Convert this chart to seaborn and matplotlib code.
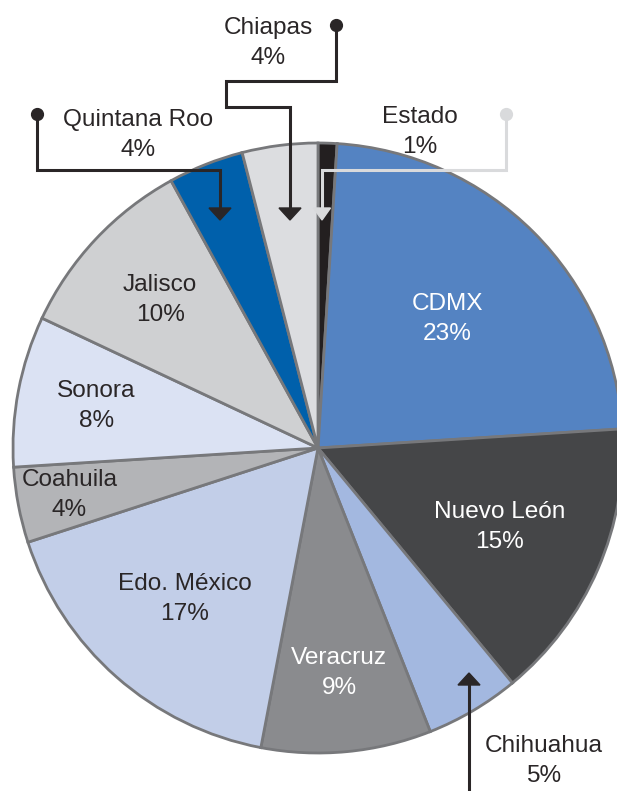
import matplotlib
matplotlib.use("Agg")
import matplotlib.pyplot as plt
import seaborn as sns
from matplotlib.patches import Polygon
import numpy as np

# data, clockwise from 12 o'clock
estados = ["Estado", "CDMX", "Nuevo León", "Chihuahua", "Veracruz", "Edo. México",
           "Coahuila", "Sonora", "Jalisco", "Quintana Roo", "Chiapas"]
porcentajes = [1, 23, 15, 5, 9, 17, 4, 8, 10, 4, 4]
colores = ["#231f20", "#5483c2", "#454648", "#a3b8e0", "#8a8b8e", "#c2cee8",
           "#b3b4b7", "#dbe2f3", "#cfd0d2", "#0060ab", "#dcdde0"]

W, H = 617, 791
CX, CY, R = 318, 448, 305

sns.set_theme(style="white")
plt.rcParams["font.family"] = ["Liberation Sans", "DejaVu Sans"]

fig = plt.figure(figsize=(W / 100, H / 100), dpi=100)
ax = fig.add_axes([0, 0, 1, 1])

def py(y):
    return H - y

wedges, _ = ax.pie(porcentajes, colors=colores, startangle=90, counterclock=False,
                   center=(CX, py(CY)), radius=R,
                   wedgeprops=dict(edgecolor="#77787b", linewidth=2.0))
ax.set_xlim(0, W)
ax.set_ylim(0, H)
ax.set_aspect("equal")
ax.axis("off")

FS = 17.6
dark = "#2a2627"

def two_lines(x, y, name, pct, color=dark):
    ax.text(x, py(y - 15), name, ha="center", va="center", fontsize=FS, color=color)
    ax.text(x, py(y + 15), pct, ha="center", va="center", fontsize=FS, color=color)

# labels inside the slices
dist = {"CDMX": 0.60, "Nuevo León": 0.65, "Veracruz": 0.74, "Edo. México": 0.66,
        "Coahuila": 0.83, "Sonora": 0.74, "Jalisco": 0.71}
blancos = {"CDMX", "Nuevo León", "Veracruz"}
for w, name, p in zip(wedges, estados, porcentajes):
    if name not in dist:
        continue
    ang = np.deg2rad((w.theta1 + w.theta2) / 2)
    x = CX + dist[name] * R * np.cos(ang)
    y = CY - dist[name] * R * np.sin(ang)
    two_lines(x, y, name, f"{p}%", "white" if name in blancos else dark)

# callouts for the thin slices
def callout(path, color, dot=True, head_w=22, head_h=12):
    xs = [p[0] for p in path]
    ys = [py(p[1]) for p in path]
    tipx, tipy = path[-1]
    base = tipy - head_h * np.sign(tipy - path[-2][1])
    ys[-1] = py(base)
    ax.plot(xs, ys, color=color, lw=2.2, solid_joinstyle="miter", zorder=5)
    if dot:
        ax.plot(xs[0], ys[0], "o", color=color, ms=8.5, zorder=5)
    tri = Polygon([(tipx - head_w / 2, py(base)), (tipx + head_w / 2, py(base)),
                   (tipx, py(tipy))], closed=True, color=color, zorder=6)
    ax.add_patch(tri)

pct = dict(zip(estados, porcentajes))

callout([(506, 114), (506, 170), (322, 170), (322, 220)], "#d9dadc", head_w=17)
two_lines(420, 132, "Estado", f"{pct['Estado']}%")

callout([(336, 25), (336, 81), (226, 81), (226, 107), (290, 107), (290, 220)], dark)
two_lines(268, 43, "Chiapas", f"{pct['Chiapas']}%")

callout([(37, 114), (37, 170), (220, 170), (220, 220)], dark)
two_lines(138, 135, "Quintana Roo", f"{pct['Quintana Roo']}%")

callout([(469, 800), (469, 673)], dark, dot=False)
two_lines(544, 761, "Chihuahua", f"{pct['Chihuahua']}%")

fig.savefig("out.png", dpi=100)
